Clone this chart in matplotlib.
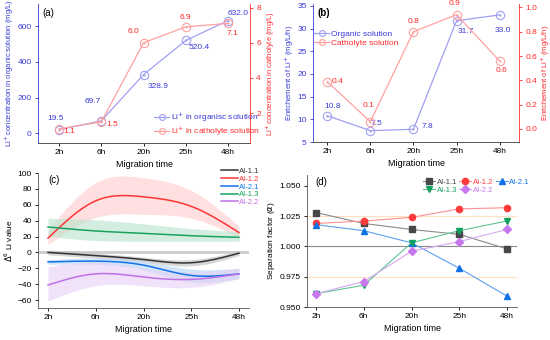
import numpy as np
import matplotlib
matplotlib.use("Agg")
import matplotlib.pyplot as plt
from matplotlib.lines import Line2D

plt.rcParams['font.family'] = ['Liberation Sans', 'DejaVu Sans']
plt.rcParams['font.size'] = 6

# data
times = ['2h', '6h', '20h', '25h', '48h']

# (a) Li+ concentration
conc_org = [19.5, 69.7, 328.9, 520.4, 632.0]
conc_cath = [1.1, 1.5, 6.0, 6.9, 7.1]

# (b) enrichment
enr_org = [10.8, 7.5, 7.8, 31.7, 33.0]
enr_cath = [0.39, 0.06, 0.80, 0.94, 0.56]
enr_cath_lbl = ['0.4', '0.1', '0.8', '0.9', '0.6']

# (c) delta 6Li value: line, lower band, upper band
d6_names = ['AI-1.1', 'AI-1.2', 'AI-2.1', 'AI-1.3', 'AI-2.2']
d6_mid = {'AI-1.1': [0, -4, -9, -13, -1],
          'AI-1.2': [18, 65, 70, 58, 25],
          'AI-2.1': [-12, -11, -16, -29, -27],
          'AI-1.3': [32, 27, 24, 21, 19],
          'AI-2.2': [-41, -27, -31, -34, -27]}
d6_low = {'AI-1.1': [-3, -7, -12, -17, -4],
          'AI-1.2': [10, 44, 48, 43, 19],
          'AI-2.1': [-15, -15, -22, -37, -33],
          'AI-1.3': [20, 15, 14, 14, 14],
          'AI-2.2': [-61, -42, -42, -44, -33]}
d6_high = {'AI-1.1': [3, -1, -6, -9, 2],
           'AI-1.2': [28, 88, 94, 78, 33],
           'AI-2.1': [-9, -7, -11, -21, -20],
           'AI-1.3': [43, 41, 36, 30, 26],
           'AI-2.2': [-18, -12, -20, -25, -20]}

# (d) separation factor
sep = {'AI-1.1': [1.028, 1.019, 1.014, 1.010, 0.998],
       'AI-1.2': [1.019, 1.021, 1.024, 1.031, 1.032],
       'AI-2.1': [1.018, 1.013, 1.003, 0.982, 0.959],
       'AI-1.3': [0.961, 0.968, 1.003, 1.013, 1.021],
       'AI-2.2': [0.961, 0.971, 0.996, 1.004, 1.014]}

BLUE_T = '#3a3ad8'
BLUE_L = '#a0a0f2'
RED_T = '#ff2a2a'
RED_L = '#ffa0a0'
FS = 6
YFS = 5.5

W, H = 550, 340


def rect(x0, y0, x1, y1):
    return [x0 / W, 1 - y1 / H, (x1 - x0) / W, (y1 - y0) / H]


def spline(y, n=200):
    # natural cubic spline through equally spaced points
    y = np.asarray(y, float)
    m = len(y)
    A = np.zeros((m, m))
    b = np.zeros(m)
    A[0, 0] = A[-1, -1] = 1
    for i in range(1, m - 1):
        A[i, i - 1], A[i, i], A[i, i + 1] = 1, 4, 1
        b[i] = 6 * (y[i + 1] - 2 * y[i] + y[i - 1])
    M = np.linalg.solve(A, b)
    xs = np.linspace(0, m - 1, n)
    ys = np.empty(n)
    for k, xv in enumerate(xs):
        i = min(int(xv), m - 2)
        t = xv - i
        ys[k] = (M[i] * (1 - t) ** 3 / 6 + M[i + 1] * t ** 3 / 6
                 + (y[i] - M[i] / 6) * (1 - t) + (y[i + 1] - M[i + 1] / 6) * t)
    return xs, ys


def style(ax):
    ax.tick_params(length=2.5, width=0.6, pad=2, labelsize=FS)
    for s in ax.spines.values():
        s.set_linewidth(0.6)
        s.set_color('#555555')
    ax.spines['top'].set_visible(False)


def circ(ax, xv, yv, col, label=None):
    ax.plot(xv, yv, color=col, lw=0.9, marker='o', ms=6, mfc='none', mec=col, mew=0.8, label=label)
    ax.plot(xv, yv, ls='none', marker='.', ms=1.2, color=col)


x = np.arange(len(times))
fig = plt.figure(figsize=(5.5, 3.4), dpi=100)

# ---------- (a)
ax = fig.add_axes(rect(38, 4, 250, 143))
ax2 = ax.twinx()
style(ax)
style(ax2)
ax.spines['right'].set_visible(False)
ax.spines['left'].set_color(BLUE_T)
ax2.spines['right'].set_color(RED_T)
ax2.spines['left'].set_visible(False)
circ(ax, x, conc_org, BLUE_L, 'Li$^{+}$ in organisc solution')
circ(ax2, x, conc_cath, RED_L, 'Li$^{+}$ in catholyte solution')
ax.set_xlim(-0.5, 4.52)
ax.set_ylim(-55, 725)
ax2.set_ylim(0.3, 8.2)
ax.set_yticks([0, 200, 400, 600])
ax2.set_yticks([2, 4, 6, 8])
ax.set_xticks(x)
ax.set_xticklabels(times)
ax.tick_params(axis='y', colors=BLUE_T)
ax2.tick_params(axis='y', colors=RED_T)
ax.set_xlabel('Migration time', fontsize=6.5, labelpad=3)
ax.set_ylabel('Li$^{+}$ concentration in organic solution (mg/L)', color=BLUE_T, fontsize=YFS, labelpad=1)
ax2.set_ylabel('Li$^{+}$ concentration in catholyte (mg/L)', color=RED_T, fontsize=YFS, labelpad=2)
offs_org = [(-4, 11), (-9, 19), (15, -12), (13, -7), (10, 7)]
offs_cath = [(10, -3), (11, -3), (-10, 11), (0, 9), (4, -10)]
for i in range(5):
    ax.annotate(f'{conc_org[i]:.1f}', (x[i], conc_org[i]), xytext=offs_org[i],
                textcoords='offset pixels', ha='center', va='center', color=BLUE_T, fontsize=FS)
    ax2.annotate(f'{conc_cath[i]:.1f}', (x[i], conc_cath[i]), xytext=offs_cath[i],
                 textcoords='offset pixels', ha='center', va='center', color=RED_T, fontsize=FS)
ax.text(0.02, 0.97, '(a)', transform=ax.transAxes, fontsize=7, va='top')
h1, l1 = ax.get_legend_handles_labels()
h2, l2 = ax2.get_legend_handles_labels()
lg = ax.legend(h1 + h2, l1 + l2, loc='upper left', bbox_to_anchor=(150 / W, 1 - 106 / H),
               bbox_transform=fig.transFigure, frameon=False, fontsize=FS, borderpad=0,
               handlelength=1.8, handletextpad=0.25, labelspacing=0.0, markerscale=0.7)
for t, c in zip(lg.get_texts(), [BLUE_T, RED_T]):
    t.set_color(c)

# ---------- (b)
bx = fig.add_axes(rect(313, 4, 519, 142))
bx2 = bx.twinx()
style(bx)
style(bx2)
bx.spines['right'].set_visible(False)
bx.spines['left'].set_color(BLUE_T)
bx2.spines['right'].set_color(RED_T)
bx2.spines['left'].set_visible(False)
circ(bx, x, enr_org, BLUE_L, 'Organic solution')
circ(bx2, x, enr_cath, RED_L, 'Catholyte solution')
bx.set_xlim(-0.33, 4.45)
bx.set_ylim(5, 35.4)
bx2.set_ylim(-0.107, 1.028)
bx.set_yticks([5, 10, 15, 20, 25, 30, 35])
bx2.set_yticks([0.0, 0.2, 0.4, 0.6, 0.8, 1.0])
bx2.set_yticklabels(['0.0', '0.2', '0.4', '0.6', '0.8', '1.0'])
bx.set_xticks(x)
bx.set_xticklabels(times)
bx.tick_params(axis='y', colors=BLUE_T)
bx2.tick_params(axis='y', colors=RED_T)
bx.set_xlabel('Migration time', fontsize=6.5, labelpad=3)
bx.set_ylabel('Enrichement of Li$^{+}$ (mg/L/h)', color=BLUE_T, fontsize=YFS, labelpad=1)
bx2.set_ylabel('Enrichement of Li$^{+}$ (mg/L/h)', color=RED_T, fontsize=YFS, labelpad=0.5)
offb_org = [(5, 9), (6, 7), (14, 3), (9, -11), (3, -16)]
offb_cath = [(10, 0), (-2, 16), (0, 10), (-2, 11), (2, -10)]
for i in range(5):
    bx.annotate(f'{enr_org[i]:.1f}', (x[i], enr_org[i]), xytext=offb_org[i],
                textcoords='offset pixels', ha='center', va='center', color=BLUE_T, fontsize=FS)
    bx2.annotate(enr_cath_lbl[i], (x[i], enr_cath[i]), xytext=offb_cath[i],
                 textcoords='offset pixels', ha='center', va='center', color=RED_T, fontsize=FS)
bx.text(0.02, 0.97, '(b)', transform=bx.transAxes, fontsize=7, va='top', fontweight='bold')
h1, l1 = bx.get_legend_handles_labels()
h2, l2 = bx2.get_legend_handles_labels()
lg = bx.legend(h1 + h2, l1 + l2, loc='upper left', bbox_to_anchor=(310 / W, 1 - 26 / H),
               bbox_transform=fig.transFigure, frameon=False, fontsize=FS, borderpad=0,
               handlelength=1.8, handletextpad=0.25, labelspacing=0.15, markerscale=0.7)
for t, c in zip(lg.get_texts(), [BLUE_T, RED_T]):
    t.set_color(c)

# ---------- (c)
c_line = {'AI-1.1': '#333333', 'AI-1.2': '#ff3535', 'AI-2.1': '#1273e6',
          'AI-1.3': '#17a35e', 'AI-2.2': '#c070e6'}
c_band = {'AI-1.1': '#bdbdbd', 'AI-1.2': '#ffcaca', 'AI-2.1': '#b5d2f5',
          'AI-1.3': '#b6e3cc', 'AI-2.2': '#e6d0f5'}
cx = fig.add_axes(rect(38, 173, 249, 308))
style(cx)
cx.spines['right'].set_visible(False)
cx.axhline(0, color='#cccccc', lw=2, zorder=1)
for name in d6_names:
    xs, lo = spline(d6_low[name])
    _, hi = spline(d6_high[name])
    cx.fill_between(xs, lo, hi, color=c_band[name], alpha=0.6, lw=0, zorder=1)
for name in d6_names:
    xs, mid = spline(d6_mid[name])
    cx.plot(xs, mid, color=c_line[name], lw=1.1, label=name, zorder=3)
cx.set_xlim(-0.21, 4.21)
cx.set_ylim(-70, 100)
cx.set_yticks(range(-60, 101, 20))
cx.set_xticks(x)
cx.set_xticklabels(times)
cx.set_xlabel('Migration time', fontsize=6.5, labelpad=3)
cx.set_ylabel('$\\Delta^{6}$ Li value', fontsize=FS, labelpad=2)
cx.text(0.05, 0.985, '(c)', transform=cx.transAxes, fontsize=7, va='top')
lg = cx.legend(loc='upper left', bbox_to_anchor=(217 / W, 1 - 164 / H),
               bbox_transform=fig.transFigure, frameon=False, fontsize=5.5, borderpad=0,
               handlelength=2.2, handletextpad=0.2, labelspacing=0.05)
for t, name in zip(lg.get_texts(), d6_names):
    t.set_color(c_line[name])

# ---------- (d)
d_mk = {'AI-1.1': ('s', '#474747', '#8a8a8a'), 'AI-1.2': ('o', '#ff3b3b', '#ff8f8f'),
        'AI-2.1': ('^', '#1070e6', '#5aa0f0'), 'AI-1.3': ('v', '#12a060', '#5cc491'),
        'AI-2.2': ('D', '#c878ee', '#d7a6f2')}
dx = fig.add_axes(rect(307, 175, 517, 307))
style(dx)
dx.spines['right'].set_visible(False)
dx.axhline(1.0, color='#8c8c8c', lw=0.8, zorder=1)
dx.axhline(1.025, color='#ffe0c0', lw=0.8, zorder=1)
dx.axhline(0.975, color='#ffe0c0', lw=0.8, zorder=1)
handles = {}
for name in d6_names:
    m, cm, cl = d_mk[name]
    ms = 4.5 if m != 'D' else 4.0
    dx.plot(x, sep[name], color=cl, lw=0.8, zorder=2)
    dx.plot(x, sep[name], ls='none', marker=m, ms=ms, color=cm, zorder=3)
    handles[name] = Line2D([], [], color=cl, lw=0.8, marker=m, ms=ms, mfc=cm, mec=cm)
dx.set_xlim(-0.19, 4.21)
dx.set_ylim(0.950, 1.059)
dx.set_yticks([0.950, 0.975, 1.000, 1.025, 1.050])
dx.set_yticklabels(['0.950', '0.975', '1.000', '1.025', '1.050'])
dx.set_xticks(x)
dx.set_xticklabels(times)
dx.set_xlabel('Migration time', fontsize=6.5, labelpad=3)
dx.set_ylabel('Separation factor ($\\alpha$)', fontsize=FS, labelpad=2)
dx.text(0.04, 0.985, '(d)', transform=dx.transAxes, fontsize=7, va='top')
# column-major order so rows read AI-1.1, AI-1.2, AI-2.1 / AI-1.3, AI-2.2
leg_order = ['AI-1.1', 'AI-1.3', 'AI-1.2', 'AI-2.2', 'AI-2.1']
lg = dx.legend([handles[n] for n in leg_order], leg_order, loc='upper left',
               bbox_to_anchor=(419 / W, 1 - 175 / H),
               bbox_transform=fig.transFigure, frameon=False, fontsize=5.5, borderpad=0, ncol=3,
               handlelength=1.6, handletextpad=0.2, labelspacing=0.05, columnspacing=0.3)
for t, name in zip(lg.get_texts(), leg_order):
    t.set_color(d_mk[name][1])

fig.savefig('out.png', dpi=100)
